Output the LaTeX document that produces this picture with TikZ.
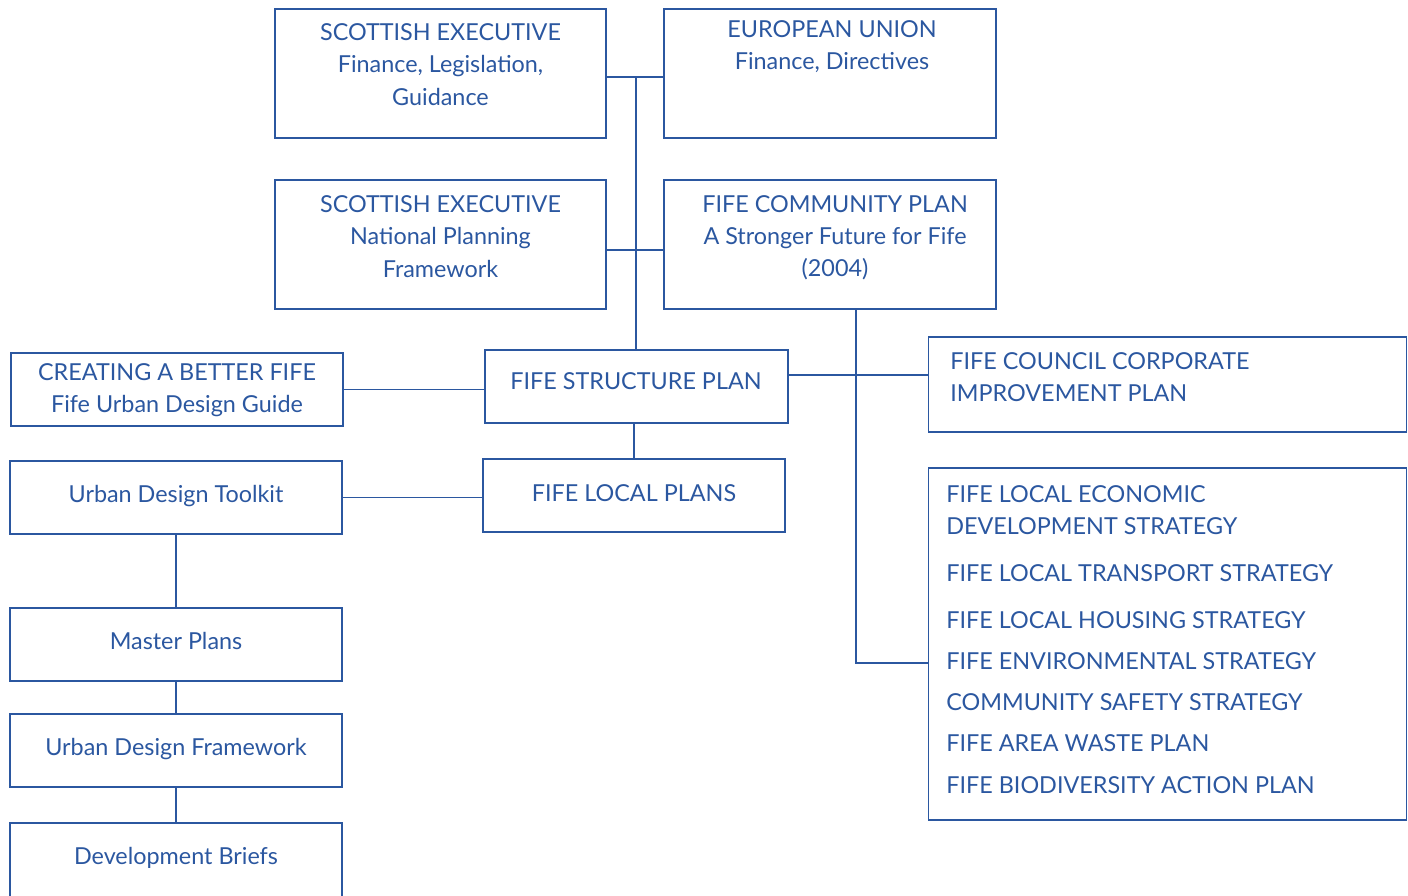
\documentclass[tikz,border=0pt]{standalone}
\usepackage{fontspec}
\setmainfont{Lato}
\usepackage{xcolor}
\definecolor{fifeblue}{RGB}{43,87,160}
\tikzset{
	box/.style={shape=rectangle, draw=fifeblue, line width=0.8pt},
	txt/.style={text=fifeblue, font=\fontsize{13.3}{18.3}\selectfont, inner sep=0pt},
	wire/.style={draw=fifeblue, line width=0.8pt}
}

\begin{document}
\begin{tikzpicture}[x=0.02cm, y=-0.02cm]
	\useasboundingbox (0, 0) rectangle (1408, 895);
	% Boxes:
	\node[box, minimum width=6.62cm, minimum height=2.58cm] (seFin) at (440.5, 73.5){} node[txt, align=center] at (440.5, 64.5){SCOTTISH EXECUTIVE\\Finance, Legislation,\\Guidance};
	\node[box, minimum width=6.64cm, minimum height=2.58cm] (eu) at (830, 73.5){} node[txt, align=center] at (832, 47){EUROPEAN UNION\\Finance, Directives};
	\node[box, minimum width=6.62cm, minimum height=2.58cm] (seNpf) at (440.5, 244.5){} node[txt, align=center] at (440.5, 236.5){SCOTTISH EXECUTIVE\\National Planning\\Framework};
	\node[box, minimum width=6.64cm, minimum height=2.58cm] (fcp) at (830, 244.5){} node[txt, align=center] at (835, 238){FIFE COMMUNITY PLAN\\A Stronger Future for Fife\\(2004)};
	\node[box, minimum width=6.64cm, minimum height=1.46cm] (cbf) at (177, 389.5){} node[txt, align=center] at (177, 390){CREATING A BETTER FIFE\\Fife Urban Design Guide};
	\node[box, minimum width=6.06cm, minimum height=1.46cm] (fsp) at (636.5, 386.5){} node[txt] at (636, 381){FIFE STRUCTURE PLAN};
	\node[box, minimum width=9.56cm, minimum height=1.9cm] (corp) at (1167.5, 384.5){} node[txt, align=left, anchor=west] at (950, 377){FIFE COUNCIL CORPORATE\\IMPROVEMENT PLAN};
	\node[box, minimum width=6.64cm, minimum height=1.46cm] (udt) at (176, 497.5){} node[txt] at (176, 496){Urban Design Toolkit};
	\node[box, minimum width=6.04cm, minimum height=1.46cm] (flp) at (634, 495.5){} node[txt] at (634, 493){FIFE LOCAL PLANS};
	\node[box, minimum width=9.56cm, minimum height=7.04cm] (strat) at (1167.5, 644){} node[txt, align=left, anchor=north west] at (946, 485){FIFE LOCAL ECONOMIC\\DEVELOPMENT STRATEGY\\[8.5pt]FIFE LOCAL TRANSPORT STRATEGY\\[8.5pt]FIFE LOCAL HOUSING STRATEGY\\[5pt]FIFE ENVIRONMENTAL STRATEGY\\[5pt]COMMUNITY SAFETY STRATEGY\\[5pt]FIFE AREA WASTE PLAN\\[5.5pt]FIFE BIODIVERSITY ACTION PLAN};
	\node[box, minimum width=6.64cm, minimum height=1.46cm] (mp) at (176, 644.5){} node[txt] at (176, 641){Master Plans};
	\node[box, minimum width=6.64cm, minimum height=1.46cm] (udf) at (176, 750.5){} node[txt] at (176, 749){Urban Design Framework};
	\node[box, minimum width=6.64cm, minimum height=1.8cm] (db) at (176, 868){} node[txt] at (176, 858){Development Briefs};
	% Junctions:
	\coordinate (jTop) at (636, 77);
	\coordinate (jMid) at (636, 250);
	\coordinate (jCorp) at (856, 375);
	\coordinate (jStrat) at (856, 663);
	% Wires:
	\draw[wire] (seFin.east |- jTop) -- (eu.west |- jTop);
	\draw[wire] (seNpf.east |- jMid) -- (fcp.west |- jMid);
	\draw[wire] (jTop) -- (jTop |- fsp.north);
	\draw[wire] (flp.north |- fsp.south) -- (flp.north);
	\draw[wire] (cbf.east) -- (cbf.east -| fsp.west);
	\draw[wire] (udt.east) -- (udt.east -| flp.west);
	\draw[wire] (udt.south) -- (mp.north);
	\draw[wire] (mp.south) -- (udf.north);
	\draw[wire] (udf.south) -- (db.north);
	\draw[wire] (fsp.east |- jCorp) -- (corp.west |- jCorp);
	\draw[wire] (jStrat |- fcp.south) -- (jStrat) -- (jStrat -| strat.west);
\end{tikzpicture}
\end{document}
